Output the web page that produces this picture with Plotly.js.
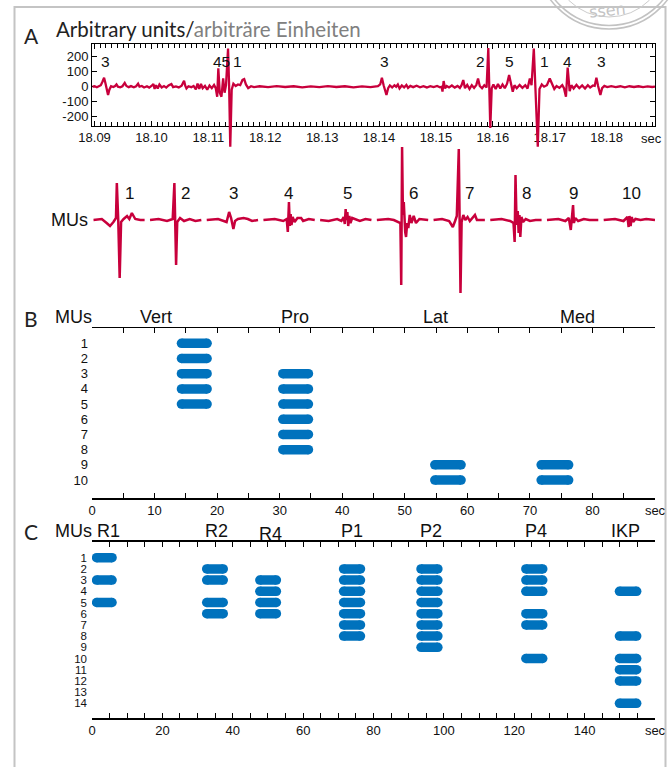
<!DOCTYPE html>
<html>
<head>
<meta charset="utf-8">
<script src="https://cdn.plot.ly/plotly-3.0.1.min.js"></script>
<style>html,body{margin:0;padding:0;background:#fff;}#chart{width:671px;height:767px;}</style>
</head>
<body>
<div id="chart"></div>
<script>
// ---------- DATA ----------
// Panel A: raw EMG trace (time in ms after 18.09 s, amplitude in arbitrary units)
const sigBaseSec = 18.09;
const sigMs = [-0.4,0.0,0.4,0.8,1.1,1.4,1.67,1.9,2.1,2.37,2.6,2.9,3.3,3.6,3.85,4.1,4.5,4.9,5.3,5.6,6.0,6.4,6.9,7.3,7.65,7.9,8.3,8.7,9.2,9.6,10.0,10.34,10.55,10.8,11.1,11.4,11.8,12.2,12.6,13.0,13.5,13.8,14.3,14.8,15.3,15.73,15.95,16.15,16.5,17.0,17.4,17.8,18.1,18.4,18.7,19.0,19.4,19.8,20.2,20.6,21.0,21.3,21.55,21.75,22.0,22.3,22.6,22.85,23.1,23.46,23.65,23.85,24.1,24.4,24.8,25.2,25.6,26.0,26.3,26.6,27.0,27.5,28.0,29.0,30.5,32.0,33.5,35.0,36.5,38.0,39.5,41.0,42.5,44.0,45.5,47.0,48.5,49.8,50.2,50.5,50.8,51.0,51.3,51.6,51.9,52.3,52.7,53.0,53.3,53.6,54.0,54.4,54.8,55.1,55.5,56.0,56.6,57.2,57.8,58.4,59.0,59.6,60.2,60.7,61.0,61.15,61.35,61.6,61.9,62.3,62.8,63.3,63.8,64.2,64.5,64.8,65.1,65.5,65.9,66.3,66.7,67.1,67.4,67.7,68.1,68.5,68.9,69.2,69.4,69.55,69.8,70.1,70.5,70.9,71.3,71.7,72.1,72.5,72.86,73.15,73.5,73.8,74.2,74.7,75.2,75.7,76.1,76.5,76.8,77.2,77.5,77.9,78.2,78.6,79.0,79.5,80.0,80.4,80.8,81.2,81.7,82.2,82.5,82.85,83.15,83.5,83.8,84.2,84.7,85.2,85.7,86.2,86.7,87.1,87.6,87.9,88.2,88.5,88.9,89.2,89.6,90.1,90.8,91.6,92.4,93.2,94.0,94.8,95.6,96.4,97.2,98.0,98.5];
const sigVal = [0,3,-4,4,10,35,60,25,-20,-55,-20,3,-2,4,15,0,-4,3,25,5,-3,4,-4,3,20,0,5,-5,3,-6,5,18,-15,10,-12,15,-5,4,-6,8,18,-3,2,-5,6,40,5,-12,3,-3,5,-18,20,-15,18,-10,5,-20,8,-10,12,-10,-67,122,-40,-67,55,-40,10,255,0,-400,-20,20,5,15,10,45,51,15,-10,3,-3,3,-3,4,-2,3,-4,2,-3,4,-2,3,-4,2,-3,3,15,60,10,-20,-55,-10,8,-5,10,0,15,-12,8,-5,12,-8,5,-3,6,-4,3,-5,4,-3,5,-4,0,-33,38,-10,5,-5,8,-6,5,-8,10,44,-10,12,-15,10,-8,12,55,5,-10,10,-5,258,0,-275,-10,15,-15,18,-12,15,-10,20,78,20,-33,10,-10,12,-8,10,-12,55,10,255,0,-400,-15,15,0,10,55,15,-15,5,-8,10,-10,-67,127,-30,10,-12,12,-10,8,-12,10,-5,8,5,60,5,-55,-10,5,-3,4,-3,3,-4,3,-2,3,-3,2,-2,0];
const aLabelText = ['3','45','1','3','2','5','1','4','3'];
const aLabelSec = [18.0919,18.1123,18.1151,18.1409,18.1578,18.1629,18.1690,18.1731,18.1791];
const aTickVals = [-200,-100,0,100,200];
const aTickText = ['-200','-100','0','100','200'];

// Panel A lower: motor-unit templates (local time ms, amplitude)
const muNames = ['1','2','3','4','5','6','7','8','9','10'];
const muMs = [
  [0,3.0,4.7,5.9,7.1,8.0,8.3,8.8,9.3,9.8,10.7,11.9,12.7,13.6,14.8,16.6,18.1],
  [0,3,6,8,8.6,8.9,9.2,9.6,10.6,12,14,16,18.1],
  [0,4,6,7,7.9,8.6,9.4,10.0,11,13,14.5,16,18.1],
  [0,4,7,8.2,8.6,9.0,9.3,9.6,9.9,10.3,11,12,13.3,14,16,18.1],
  [0,3,6,7.5,8.3,8.7,9.0,9.3,9.6,9.9,10.3,10.7,11.3,12.5,14,16,18.1],
  [0,4,6,7.5,8.3,8.6,8.9,9.2,9.5,10.0,10.3,10.7,11.1,11.6,12.2,13.0,13.8,15,18.1],
  [0,3,5.5,6.8,7.6,8.2,8.9,9.2,9.5,9.9,10.5,11.2,12,12.8,14.6,15.3,18.1],
  [0,4,7,8.2,8.6,8.9,9.3,9.7,10.0,10.3,10.6,11.0,11.6,12.5,14,16,18.1],
  [0,4,6.5,7.7,8.4,8.8,9.2,9.5,10.0,11,13,15,18.1],
  [0,4,7,8.4,8.8,9.1,9.5,9.9,10.4,11.2,13,15,18.1]
];
const muAmp = [
  [0,1,-3,-6,-2,2,37,0,-58,-2,1,4,1,7,1,0,0],
  [0,1,-1,1,37,0,-45,-2,2,-1,1,-1,0],
  [0,1,-1,-2,8,2,-9,-1,1,2,1,-1,0],
  [0,1,-1,1,-12,18,-6,6,-5,3,-2,2,2,-1,1,0],
  [0,-1,1,-1,3,-4,11,0,8,-6,4,-3,2,1,-1,1,0],
  [0,1,0,-2,-3,-65,73,5,18,-12,-17,-3,-8,5,-3,4,-3,1,0],
  [0,1,-1,-7,-1,4,71,0,-73,-2,5,0,3,-1,5,0,0],
  [0,1,-1,-3,-22,45,-5,9,-13,5,-17,3,-2,1,-1,0,0],
  [0,1,-1,2,-10,0,15,-3,2,-1,1,0,0],
  [0,1,-1,3,-7,4,-6,3,-2,1,0,1,0]
];
const muLabelMs = [12.7,12.6,9.4,8.9,9.6,13.0,12.7,12.7,9.4,9.8];

// Panel B
const bGroups = ['Vert','Pro','Lat','Med'];
const bStart = [14.3,30.5,54.8,71.8];
const bEnd = [18.4,34.6,59.0,76.2];
const bMUs = [[1,2,3,4,5],[3,4,5,6,7,8],[9,10],[9,10]];
const bRows = [1,2,3,4,5,6,7,8,9,10];
const bTickVals = [0,10,20,30,40,50,60,70,80,90];
const bTickText = ['0','10','20','30','40','50','60','70','80','sec'];

// Panel C
const cGroups = ['R1','R2','R4','P1','P2','P4','IKP'];
const cStart = [1.3,32.6,47.7,71.5,93.5,123.3,149.9];
const cEnd = [5.7,37.3,52.4,76.3,98.3,128.1,154.8];
const cMUs = [[1,3,5],[2,3,5,6],[3,4,5,6],[2,3,4,5,6,7,8],[2,3,4,5,6,7,8,9],[2,3,4,6,7,10],[4,8,10,11,12,14]];
const cRows = [1,2,3,4,5,6,7,8,9,10,11,12,13,14];
const cTickVals = [0,20,40,60,80,100,120,140,160];
const cTickText = ['0','20','40','60','80','100','120','140','sec'];

// ---------- STYLE / LAYOUT ----------
const W = 671, H = 767;
const RED = '#c8003c', BLUE = '#0072bd';
const NUM = 'Liberation Sans, Arial, sans-serif';
const HUM = 'Lato, Noto Sans, sans-serif';
const px = v => v / W;
const py = v => 1 - v / H;

const traces = [];
traces.push({type:'scatter', x:[], y:[], xaxis:'x', yaxis:'y', hoverinfo:'skip', showlegend:false});
traces.push({type:'scatter', mode:'lines', x: sigMs.map(m => sigBaseSec + m/1000), y: sigVal,
  xaxis:'x3', yaxis:'y3', line:{color:RED, width:2.3}, hoverinfo:'skip', showlegend:false});
muMs.forEach((arr, i) => {
  traces.push({type:'scatter', mode:'lines', x: arr.map(t => t + 20*i), y: muAmp[i],
    xaxis:'x2', yaxis:'y2', line:{color:RED, width:2.5}, hoverinfo:'skip', showlegend:false});
});
function bars(groupsStart, groupsEnd, groupsMUs, xa, ya) {
  groupsMUs.forEach((mus, g) => {
    const x = [], y = [];
    mus.forEach(m => { x.push(groupsStart[g], groupsEnd[g], null); y.push(m, m, null); });
    traces.push({type:'scatter', mode:'lines+markers', x, y, xaxis:xa, yaxis:ya,
      line:{color:BLUE, width:9.5}, marker:{color:BLUE, size:9.5}, hoverinfo:'skip', showlegend:false});
  });
}
bars(bStart, bEnd, bMUs, 'x4', 'y4');
bars(cStart, cEnd, cMUs, 'x5', 'y5');

const tf = {family:NUM, size:13, color:'#111'};
const hidden = {visible:false, showgrid:false, zeroline:false};
const xDom = [px(92.3), px(655)];

const layout = {
  width:W, height:H, margin:{l:0,r:0,t:0,b:0}, paper_bgcolor:'#fff', plot_bgcolor:'rgba(0,0,0,0)',
  showlegend:false,
  xaxis:{domain:xDom, anchor:'y', range:[18.0896,18.1885], showline:true, linecolor:'#000', linewidth:1.3,
    mirror:'ticks', ticks:'inside', ticklen:5, tickcolor:'#000', tickwidth:1, tick0:18.09, dtick:0.01,
    tickformat:'.2f', minor:{tick0:18.09, dtick:0.001, ticks:'inside', ticklen:4, tickcolor:'#000', tickwidth:1, showgrid:false},
    showgrid:false, zeroline:false, tickfont:tf},
  yaxis:{domain:[py(125.5), py(44)], anchor:'x', range:[-258.7,284.7], showline:true, linecolor:'#000', linewidth:1.3,
    mirror:'ticks', ticks:'inside', ticklen:5, tickcolor:'#000', tickvals:aTickVals, ticktext:aTickText,
    showgrid:false, zeroline:false, tickfont:tf},
  xaxis3:Object.assign({domain:xDom, anchor:'y3', range:[18.0896,18.1885]}, hidden),
  yaxis3:Object.assign({domain:[py(160), py(40)], anchor:'x3', range:[-488.7,311.3]}, hidden),
  xaxis2:Object.assign({domain:[px(93.3), px(655)], anchor:'y2', range:[0,198.1]}, hidden),
  yaxis2:Object.assign({domain:[py(300), py(140)], anchor:'x2', range:[-80,80]}, hidden),
  xaxis4:{domain:[px(92), px(655)], anchor:'y4', range:[0,90], showline:true, linecolor:'#000', linewidth:1.3,
    mirror:'ticks', ticks:'inside', ticklen:5, tickcolor:'#000', tickvals:bTickVals, ticktext:bTickText,
    minor:{tickmode:'linear', tick0:0, dtick:5, ticks:'inside', ticklen:5, tickcolor:'#000', showgrid:false},
    showgrid:false, zeroline:false, tickfont:tf},
  yaxis4:{domain:[py(498.3), py(328.3)], anchor:'x4', range:[11.2,0.0125], showline:false, ticks:'',
    tickvals:bRows, showgrid:false, zeroline:false, tickfont:tf, ticklabelstandoff:3},
  xaxis5:{domain:[px(92), px(655)], anchor:'y5', range:[0,160], showline:true, linecolor:'#000', linewidth:1.3,
    mirror:'ticks', ticks:'inside', ticklen:5, tickcolor:'#000', tickvals:cTickVals, ticktext:cTickText,
    minor:{tickmode:'linear', tick0:0, dtick:5, ticks:'inside', ticklen:5, tickcolor:'#000', showgrid:false},
    showgrid:false, zeroline:false, tickfont:tf},
  yaxis5:{domain:[py(718.3), py(541.7)], anchor:'x5', range:[15.34,-0.43], showline:false, ticks:'',
    tickvals:cRows, showgrid:false, zeroline:false, tickfont:{family:NUM, size:11.5, color:'#111'}, ticklabelstandoff:4},
  shapes:[
    {type:'rect', xref:'paper', yref:'paper', x0:px(14.5), x1:px(665.5), y0:py(775), y1:py(7),
      line:{color:'#c4c4c4', width:2}, fillcolor:'rgba(0,0,0,0)', layer:'below'},
    {type:'circle', xref:'paper', yref:'paper', x0:px(536), x1:px(682), y0:py(29), y1:py(-117),
      line:{color:'#c2c2c2', width:1.5}},
    {type:'circle', xref:'paper', yref:'paper', x0:px(539.5), x1:px(678.5), y0:py(25.5), y1:py(-113.5),
      line:{color:'#c2c2c2', width:1.5}},
    {type:'circle', xref:'paper', yref:'paper', x0:px(552), x1:px(666), y0:py(17), y1:py(-97),
      line:{color:'#cccccc', width:1}}
  ],
  annotations:[]
};

const ann = layout.annotations;
function addP(text, x, y, size, opts) {
  ann.push(Object.assign({text, xref:'paper', yref:'paper', x:px(x), y:py(y), xanchor:'center', yanchor:'middle',
    showarrow:false, font:{family:NUM, size, color:'#111'}}, opts || {}));
}
addP('A', 31, 36, 21, {font:{family:HUM, size:21, color:'#222'}});
addP('B', 31, 318.5, 21, {font:{family:HUM, size:21, color:'#222'}});
addP('C', 31, 531, 21, {font:{family:HUM, size:21, color:'#222'}});
addP('Arbitrary units/<span style="color:#808080">arbiträre Einheiten</span>', 54, 29, 20.5,
  {xanchor:'left', font:{family:HUM, size:20.5, color:'#222'}});
addP('sec', 651.7, 138, 13);
addP('MUs', 90, 220, 18, {xanchor:'right'});
addP('ssen', 607, 10, 16, {font:{family:'DejaVu Sans, sans-serif', size:16, color:'#c4c4c4'}, textangle:-6});

addP('MUs', 73.8, 316.7, 18);
const bTitleX = [156, 295, 436, 577];
bGroups.forEach((g, i) => addP(g, bTitleX[i], 316.7, 18));
addP('MUs', 73.8, 531, 18);
const cTitleX = [109, 216, 270, 351.5, 431, 535.5, 625];
const cTitleY = [531, 531, 534, 531, 531, 531, 531];
cGroups.forEach((g, i) => addP(g, cTitleX[i], cTitleY[i], 18));

aLabelText.forEach((t, i) => ann.push({text:t, xref:'x', yref:'y', x:aLabelSec[i], y:167, showarrow:false,
  xanchor:'center', yanchor:'middle', font:{family:NUM, size:15.5, color:'#111'}}));
muNames.forEach((t, i) => ann.push({text:t, xref:'x2', yref:'y2', x:muLabelMs[i] + 20*i, y:27, showarrow:false,
  xanchor:'center', yanchor:'middle', font:{family:NUM, size:17, color:'#111'}}));

Plotly.newPlot('chart', traces, layout, {staticPlot:true, displayModeBar:false});
</script>
</body>
</html>
